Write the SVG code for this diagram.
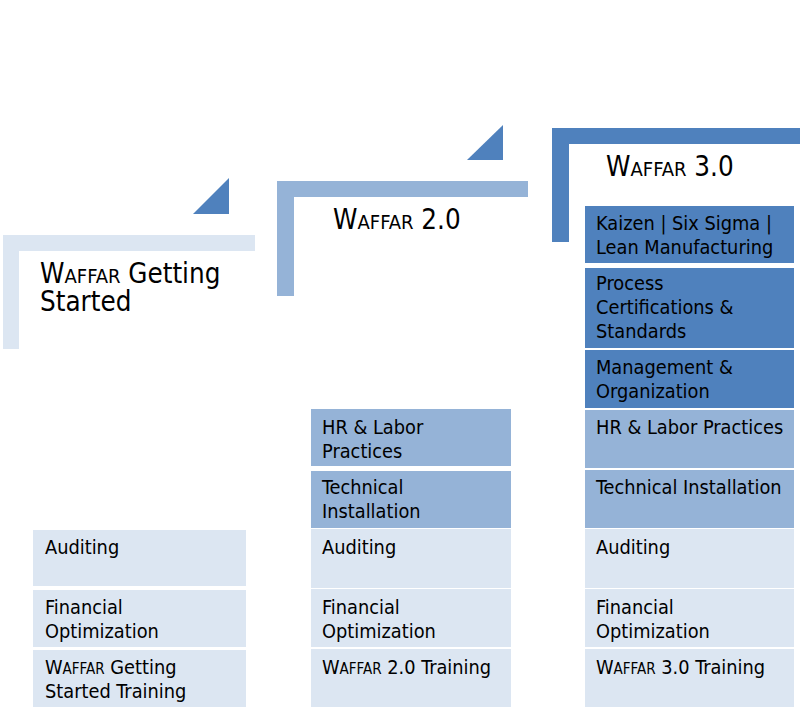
<svg xmlns="http://www.w3.org/2000/svg" width="803" height="715" viewBox="0 0 803 715">
<style>
text{font-family:"DejaVu Sans Condensed","DejaVu Sans",sans-serif;font-stretch:condensed;fill:#000}
.t{font-size:27.5px}
.ts{font-size:20px}
.b{font-size:19.8px}
.bs{font-size:15px}
.d{fill:#4f81bd}
.m{fill:#95b3d7}
.l{fill:#dce6f2}
</style>
<rect width="803" height="715" fill="#fff"/>
<g id="header-getting-started">
<path class="l" d="M3,235 H255 V251 H19 V349 H3 Z"/>
<polygon class="d" points="193,214 229,178 229,214"/>
<text class="t" x="40" y="283">W<tspan class="ts">AFFAR</tspan> Getting</text>
<text class="t" x="40" y="311">Started</text>
</g>
<g id="header-2-0">
<path class="m" d="M277,181 H528 V197 H294 V296 H277 Z"/>
<polygon class="d" points="467,160 503,125 503,160"/>
<text class="t" x="333" y="229">W<tspan class="ts">AFFAR</tspan> 2.0</text>
</g>
<g id="header-3-0">
<path class="d" d="M552,128 H800 V144 H569 V242 H552 Z"/>
<text class="t" x="606" y="176">W<tspan class="ts">AFFAR</tspan> 3.0</text>
</g>
<g id="col1">
<g id="c1-auditing"><rect class="l" x="33" y="530" width="213" height="56"/><text class="b" x="45" y="554">Auditing</text></g>
<g id="c1-financial"><rect class="l" x="33" y="590" width="213" height="57"/><text class="b" x="45" y="614">Financial</text><text class="b" x="45" y="638">Optimization</text></g>
<g id="c1-training"><rect class="l" x="33" y="650" width="213" height="57"/><text class="b" x="45" y="674">W<tspan class="bs">AFFAR</tspan> Getting</text><text class="b" x="45" y="698">Started Training</text></g>
</g>
<g id="col2">
<g id="c2-hr"><rect class="m" x="311" y="409" width="200" height="57"/><text class="b" x="322" y="434">HR &amp; Labor</text><text class="b" x="322" y="458">Practices</text></g>
<g id="c2-tech"><rect class="m" x="311" y="471" width="200" height="57"/><text class="b" x="322" y="494">Technical</text><text class="b" x="322" y="518">Installation</text></g>
<g id="c2-auditing"><rect class="l" x="311" y="529" width="200" height="59"/><text class="b" x="322" y="554">Auditing</text></g>
<g id="c2-financial"><rect class="l" x="311" y="589" width="200" height="58"/><text class="b" x="322" y="614">Financial</text><text class="b" x="322" y="638">Optimization</text></g>
<g id="c2-training"><rect class="l" x="311" y="649" width="200" height="58"/><text class="b" x="322" y="674">W<tspan class="bs">AFFAR</tspan> 2.0 Training</text></g>
</g>
<g id="col3">
<g id="c3-kaizen"><rect class="d" x="585" y="206" width="209" height="57"/><text class="b" x="596" y="230">Kaizen | Six Sigma |</text><text class="b" x="596" y="254">Lean Manufacturing</text></g>
<g id="c3-process"><rect class="d" x="585" y="268" width="209" height="80"/><text class="b" x="596" y="290">Process</text><text class="b" x="596" y="314">Certifications &amp;</text><text class="b" x="596" y="338">Standards</text></g>
<g id="c3-mgmt"><rect class="d" x="585" y="350" width="209" height="58"/><text class="b" x="596" y="374">Management &amp;</text><text class="b" x="596" y="398">Organization</text></g>
<g id="c3-hr"><rect class="m" x="585" y="410" width="209" height="58"/><text class="b" x="596" y="434">HR &amp; Labor Practices</text></g>
<g id="c3-tech"><rect class="m" x="585" y="470" width="209" height="58"/><text class="b" x="596" y="494">Technical Installation</text></g>
<g id="c3-auditing"><rect class="l" x="585" y="529" width="209" height="59"/><text class="b" x="596" y="554">Auditing</text></g>
<g id="c3-financial"><rect class="l" x="585" y="589" width="209" height="58"/><text class="b" x="596" y="614">Financial</text><text class="b" x="596" y="638">Optimization</text></g>
<g id="c3-training"><rect class="l" x="585" y="649" width="209" height="58"/><text class="b" x="596" y="674">W<tspan class="bs">AFFAR</tspan> 3.0 Training</text></g>
</g>
<g id="connectors"></g>
</svg>
